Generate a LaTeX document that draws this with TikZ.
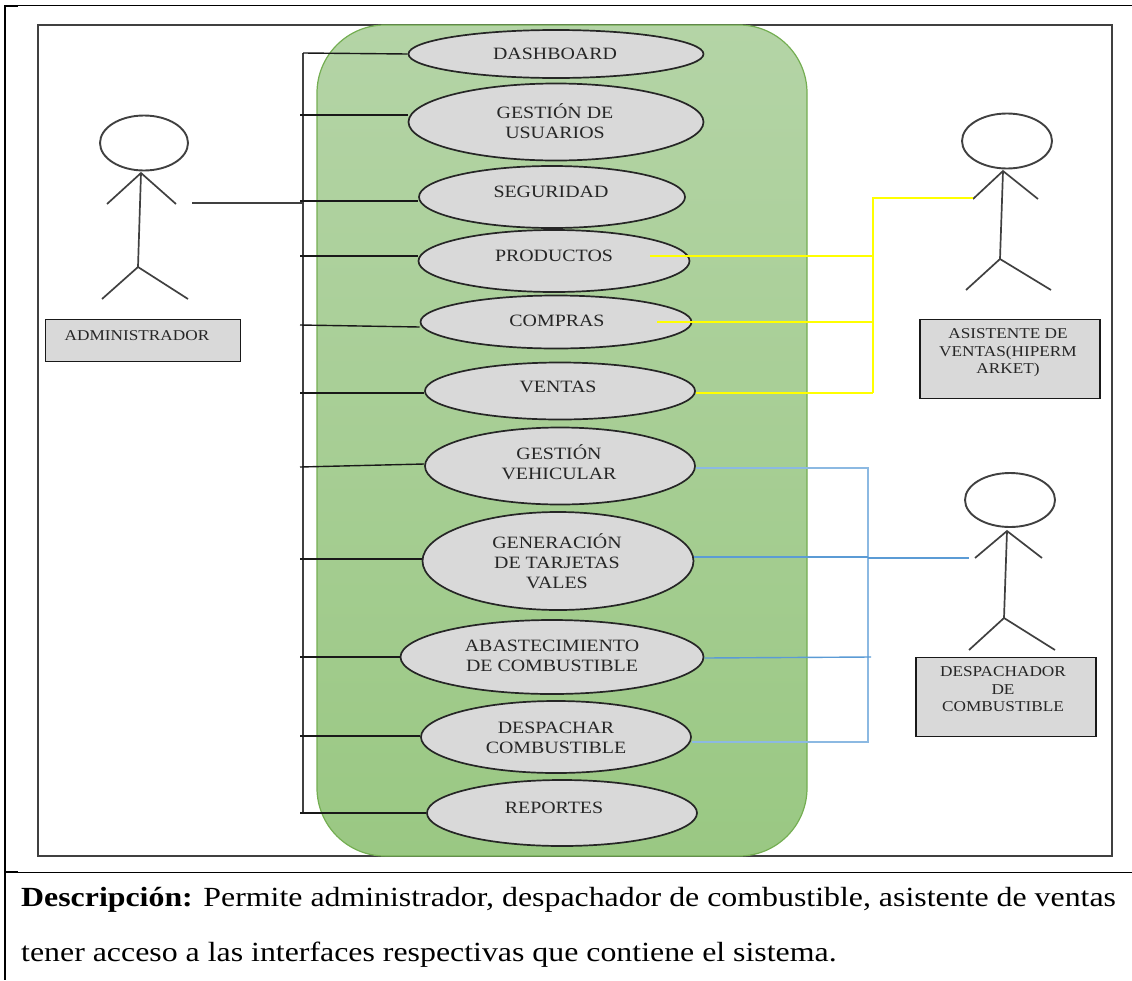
\documentclass[tikz,border=0pt]{standalone}
\usepackage{fontspec}
\setmainfont[FakeStretch=1.15]{Liberation Serif}
\usetikzlibrary{shapes.geometric,calc}
\definecolor{lbl}{HTML}{262626}
\definecolor{boxgray}{HTML}{D9D9D9}
\definecolor{lineblue}{HTML}{5B9BD5}
\definecolor{lineyellow}{HTML}{FFFF00}
\definecolor{greenA}{HTML}{B4D4A6}
\definecolor{greenB}{HTML}{9AC883}
\definecolor{greenE}{HTML}{74AE52}
\tikzset{
  x=1pt,y=-1pt,
  usecase/.style={ellipse,draw=black!85,line width=1.7pt,fill=boxgray,inner sep=0pt},
  uclabel/.style={font=\fontsize{17.3}{20.3}\selectfont,text=lbl,align=center,inner sep=0pt},
  rolebox/.style={draw=black!90,line width=1.6pt,fill=boxgray,inner sep=0pt,anchor=north west},
  rolelabel/.style={font=\fontsize{15}{17.5}\selectfont,text=lbl,inner sep=0pt,align=center},
  head/.style={draw=black!75,line width=1.9pt,ellipse,inner sep=0pt},
  stick/.style={draw=black!75,line width=1.7pt},
  adm/.style={draw=black!90,line width=1.4pt},
  yel/.style={draw=lineyellow,line width=1.6pt},
  blu/.style={draw=lineblue,line width=1.4pt},
  frame/.style={draw=black,line width=1.1pt},
  inner/.style={draw=black!75,line width=1.7pt},
  desc/.style={anchor=base west,inner sep=0pt,font=\fontsize{27.7}{30}\selectfont},
}
\newcommand{\ucase}[6]{\node[usecase,minimum width=#3pt,minimum height=#4pt] (#1) at (#2) {};\node[uclabel] (#1t) at (#6) {#5};}
\begin{document}
\begin{tikzpicture}
\useasboundingbox (0,0) rectangle (1132,980);
% outer table
\draw[frame] (5,5.5) -- (1132,5.5);
\draw[frame,line width=1.6pt] (5,5) -- (5,980);
\draw[frame] (5,872.5) -- (1132,872.5);
\draw[frame] (5,6.5) -- (18,6.5);
\draw[frame] (5,871.5) -- (18,871.5);
% inner frame
\draw[inner] (38,25) rectangle (1112,856);
% green panel
\shade[top color=greenA,bottom color=greenB,draw=none,rounded corners=68pt] (317,25) rectangle (807,856);
\draw[draw=greenE,line width=1.2pt,rounded corners=68pt] (317,25) rectangle (807,856);
% actors
\node[head,minimum width=88pt,minimum height=55pt] (h1) at (144,143) {};
\coordinate (n1) at (141,173);
\coordinate (hip1) at (138,267);
\coordinate (la1) at (107,204);
\coordinate (ra1) at (176,204);
\coordinate (lf1) at (102,299);
\coordinate (rf1) at (188,299);
\draw[stick] (la1) -- (n1) -- (ra1) (n1) -- (hip1) (lf1) -- (hip1) -- (rf1);
\node[head,minimum width=90pt,minimum height=55pt] (h2) at (1007,141) {};
\coordinate (n2) at (1003,171);
\coordinate (hip2) at (1000,259);
\coordinate (la2) at (973,199);
\coordinate (ra2) at (1038,199);
\coordinate (lf2) at (966,290);
\coordinate (rf2) at (1051,290);
\draw[stick] (la2) -- (n2) -- (ra2) (n2) -- (hip2) (lf2) -- (hip2) -- (rf2);
\node[head,minimum width=90pt,minimum height=54pt] (h3) at (1010,500) {};
\coordinate (n3) at (1007,531);
\coordinate (hip3) at (1004,618);
\coordinate (la3) at (975,558);
\coordinate (ra3) at (1042,558);
\coordinate (lf3) at (969,650);
\coordinate (rf3) at (1055,650);
\draw[stick] (la3) -- (n3) -- (ra3) (n3) -- (hip3) (lf3) -- (hip3) -- (rf3);
% role boxes
\node[rolebox,minimum width=195pt,minimum height=42pt] (r1) at (44.5,318.5) {};
\node[rolelabel] (r1t) at (137,335.5) {ADMINISTRADOR};
\node[rolebox,minimum width=180pt,minimum height=79pt] (r2) at (919,318.5) {};
\node[rolelabel] (r2t) at (1008,353) {ASISTENTE DE\\VENTAS(HIPERM\\ARKET)};
\node[rolebox,minimum width=180pt,minimum height=79pt] (r3) at (915,656.5) {};
\node[rolelabel] (r3t) at (1003,689.5) {DESPACHADOR\\DE\\COMBUSTIBLE};
% use cases
\ucase{u1}{556,54}{295}{48}{DASHBOARD}{555,54}
\ucase{u2}{556,122}{295}{77}{GESTIÓN DE\\USUARIOS}{555,121.5}
\ucase{u3}{552,197}{266}{62}{SEGURIDAD}{551,192}
\ucase{u4}{554,261}{271}{62}{PRODUCTOS}{554,255.5}
\ucase{u5}{556,322}{271}{53}{COMPRAS}{557,321}
\ucase{u6}{560,391}{270}{57}{VENTAS}{558,387}
\ucase{u7}{560,466}{270}{77}{GESTIÓN\\VEHICULAR}{559,462}
\ucase{u8}{558,561}{271}{98}{GENERACIÓN\\DE TARJETAS\\VALES}{557,561}
\ucase{u9}{552,657}{303}{74}{ABASTECIMIENTO\\DE COMBUSTIBLE}{552,656}
\ucase{u10}{556,737}{270}{72}{DESPACHAR\\COMBUSTIBLE}{556,738}
\ucase{u11}{562,813}{270}{66}{REPORTES}{554,808}
% black bus
\coordinate (bt) at (303,53);
\coordinate (bb) at (303,813);
\coordinate (a1) at (192,203);
\draw[inner] (bt) -- (bb);
\draw[inner,line width=1.4pt] (a1) -- (303,203);
\draw[adm] (bt) -- (u1.west);
\foreach \n/\ya/\yc in {u2/115/115,u3/201/201,u4/256/256,u5/325/327,u6/393/393,u7/467/464,u8/559/559,u9/657/657,u10/736/736,u11/813/813}{
  \draw[adm] (300,\ya) -- (\n.west |- 0,\yc);
}
% yellow
\coordinate (yb) at (873,198);
\coordinate (ya) at (973,198);
\draw[yel] (ya) -- (yb) -- (873,393);
\draw[yel] (650,256) -- (873,256);
\draw[yel] (657,322) -- (873,322);
\draw[yel] (u6.east |- 0,393) -- (873,393);
% blue
\coordinate (ba) at (969,558);
\draw[blu,draw=lineblue!70,line width=2pt] (u7.east |- 0,468) -- (868,468) -- (868,742) -- (u10.east |- 0,742);
\draw[blu] (u8.east |- 0,557) -- (868,557);
\draw[blu,line width=2pt] (868,558) -- (ba);
\draw[blu] (u9.east |- 0,658) -- (871,657);
% description
\node[desc] (d1) at (21,906) {\textbf{Descripción:} Permite administrador, despachador de combustible, asistente de ventas};
\node[desc] (d2) at (21,961) {tener acceso a las interfaces respectivas que contiene el sistema.};
\end{tikzpicture}
\end{document}
